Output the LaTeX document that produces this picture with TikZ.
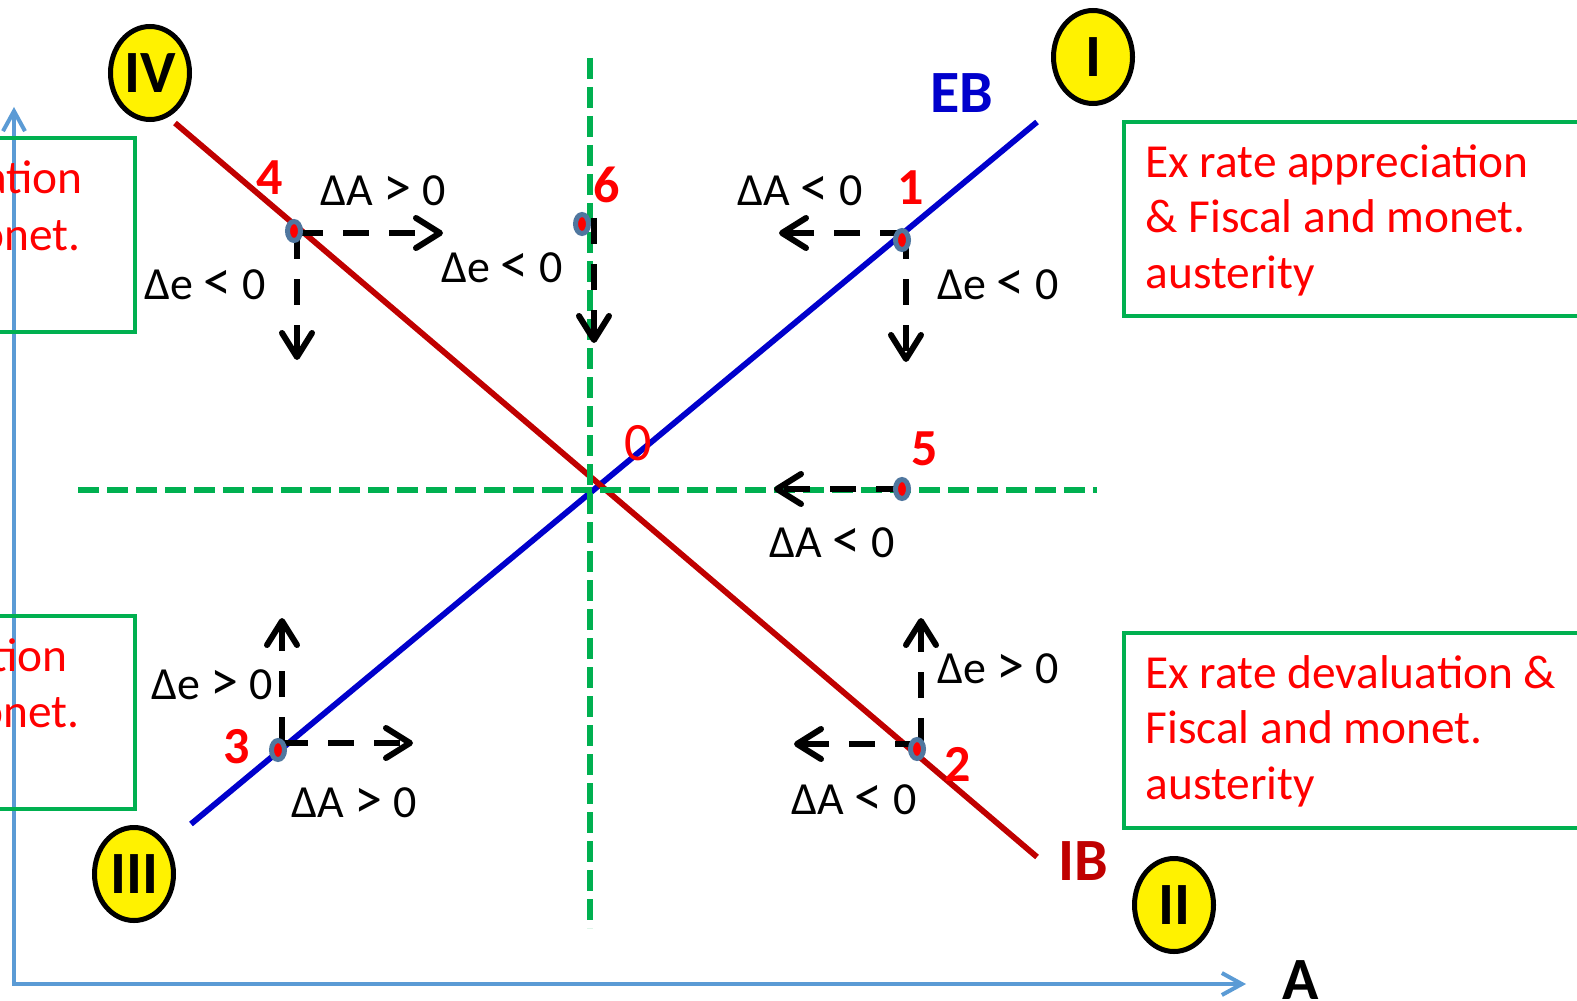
\documentclass[tikz,border=0pt]{standalone}
\usepackage{fontspec}
\setmainfont{Carlito}
\usetikzlibrary{arrows.meta,shapes.geometric}
\definecolor{ebblue}{HTML}{0000CC}
\definecolor{ibred}{HTML}{C00000}
\definecolor{guidegreen}{HTML}{00B050}
\definecolor{axisblue}{HTML}{5B9BD5}
\definecolor{dotring}{HTML}{50779F}
\newcommand{\lessmark}{\raisebox{-0.02em}{\scalebox{1.22}[1.25]{<}}}
\newcommand{\moremark}{\raisebox{-0.02em}{\scalebox{1.22}[1.25]{>}}}

\begin{document}
\begin{tikzpicture}[x=0.5pt, y=-0.5pt,
	every node/.style={font=\fontsize{23}{28}\selectfont, inner sep=0pt},
	num/.style={text=red, font=\fontsize{26}{30}\selectfont\bfseries},
	quad/.style={draw=black, line width=2.5pt, fill=yellow, ellipse, minimum width=39.5pt, minimum height=46.5pt, font=\fontsize{30}{34}\selectfont\bfseries},
	infobox/.style={draw=guidegreen, line width=2.25pt},
	boxtext/.style={text=red, align=left, anchor=base west, font=\fontsize{23.7}{27.75}\selectfont},
	guide/.style={guidegreen, line width=2.75pt, dash pattern=on 10.5pt off 4pt},
	move/.style={black, line width=3pt, dash pattern=on 13pt off 10pt, -{Straight Barb[length=12pt,width=15pt,round]}},
	curve/.style={line width=2.9pt},
	dot/.style={ellipse, draw=dotring, line width=2.5pt, fill=red, minimum width=6.5pt, minimum height=9.5pt}]
	\useasboundingbox (0,0) rectangle (1577,1000);
	\clip (0,0) rectangle (1577,1000);
	% axes
	\coordinate (O)  at (14,984);
	\coordinate (yt) at (14,107);
	\coordinate (xt) at (1246,984);
	\draw[axisblue, line width=2pt, {Straight Barb[length=10pt,width=11pt]}-{Straight Barb[length=10pt,width=11pt]}] (yt) -- (O) -- (xt);
	\node[font=\fontsize{30}{34}\selectfont\bfseries] (A) at (1301,980) {A};
	% info boxes
	\draw[infobox] (1124,122) rectangle (1600,316);
	\draw[infobox] (1124,633) rectangle (1600,828);
	\draw[infobox] (-30,138) rectangle (135,332);
	\draw[infobox] (-30,616) rectangle (135,809);
	\node[boxtext] (tr) at (1145,288) {Ex rate appreciation\\\& Fiscal and monet.\\austerity};
	\node[boxtext] (br) at (1145,799) {Ex rate devaluation \&\\Fiscal and monet.\\austerity};
	\node[text=red, anchor=base east, font=\fontsize{23.7}{27.75}\selectfont] (tl1) at (83,193) {ation};
	\node[text=red, anchor=base east, font=\fontsize{23.7}{27.75}\selectfont] (tl2) at (81,250) {onet.};
	\node[text=red, anchor=base east, font=\fontsize{23.7}{27.75}\selectfont] (bl1) at (68,671) {tion};
	\node[text=red, anchor=base east, font=\fontsize{23.7}{27.75}\selectfont] (bl2) at (80,727) {onet.};
	% EB and IB
	\coordinate (eb0) at (191,824);
	\coordinate (eb1) at (1037,122);
	\coordinate (ib0) at (175,123);
	\coordinate (ib1) at (1037,857);
	\draw[curve, ebblue] (eb0) -- (eb1);
	\draw[curve, ibred] (ib0) -- (ib1);
	\node[text=ebblue, font=\fontsize{30}{34}\selectfont\bfseries] (EB) at (962,93) {EB};
	\node[text=ibred, font=\fontsize{30}{34}\selectfont\bfseries] (IB) at (1083,861) {IB};
	% green guides
	\coordinate (gl) at (78,490);
	\coordinate (gr) at (1097,490);
	\coordinate (gt) at (590,58);
	\coordinate (gb) at (590,928);
	\draw[guide] (gl) -- (gr);
	\draw[guide] (gt) -- (gb);
	% quadrants
	\node[quad] (qI)   at (1093,57)  {I};
	\node[quad] (qII)  at (1174,905) {II};
	\node[quad] (qIII) at (134,874)  {III};
	\node[quad] (qIV)  at (150,73)   {IV};
	% moves
	\coordinate (c4) at (297,233);
	\coordinate (c4r) at (443,233);
	\coordinate (c4d) at (297,360);
	\coordinate (c6) at (594,218);
	\coordinate (c6d) at (594,343);
	\coordinate (c1) at (906,233);
	\coordinate (c1l) at (779,233);
	\coordinate (c1d) at (906,362);
	\coordinate (c5) at (902,489);
	\coordinate (c5l) at (774,489);
	\coordinate (c3) at (282,743);
	\coordinate (c3u) at (282,618);
	\coordinate (c3r) at (413,743);
	\coordinate (c2) at (921,744);
	\coordinate (c2u) at (921,618);
	\coordinate (c2l) at (794,744);
	\draw[move] (c4) -- (c4r);
	\draw[move] (c4) -- (c4d);
	\draw[move] (c6) -- (c6d);
	\draw[move] (c1) -- (c1l);
	\draw[move] (c1) -- (c1d);
	\draw[move] (c5) -- (c5l);
	\draw[move] (c3) -- (c3u);
	\draw[move] (c3) -- (c3r);
	\draw[move] (c2) -- (c2u);
	\draw[move] (c2) -- (c2l);
	% points
	\node[dot] (p1) at (902,240) {};
	\node[dot] (p2) at (917,749) {};
	\node[dot] (p3) at (278,750) {};
	\node[dot] (p4) at (294,231) {};
	\node[dot] (p5) at (902,489) {};
	\node[dot] (p6) at (582,224) {};
	\node[text=red, font=\fontsize{27}{30}\selectfont] (n0) at (638,443) {0};
	\node[num] (n1) at (911,188) {1};
	\node[num] (n2) at (958,764) {2};
	\node[num] (n3) at (237,747) {3};
	\node[num] (n4) at (270,178) {4};
	\node[num] (n5) at (925,449) {5};
	\node[num] (n6) at (607,185) {6};
	% changes
	\node (a4) at (383,191) {ΔA \moremark{} 0};
	\node (e4) at (205,285) {Δe \lessmark{} 0};
	\node (e6) at (502,268) {Δe \lessmark{} 0};
	\node (a1) at (800,191) {ΔA \lessmark{} 0};
	\node (e1) at (998,285) {Δe \lessmark{} 0};
	\node (a5) at (832,543) {ΔA \lessmark{} 0};
	\node (e3) at (212,685) {Δe \moremark{} 0};
	\node (a3) at (354,803) {ΔA \moremark{} 0};
	\node (e2) at (998,669) {Δe \moremark{} 0};
	\node (a2) at (854,800) {ΔA \lessmark{} 0};
\end{tikzpicture}
\end{document}
